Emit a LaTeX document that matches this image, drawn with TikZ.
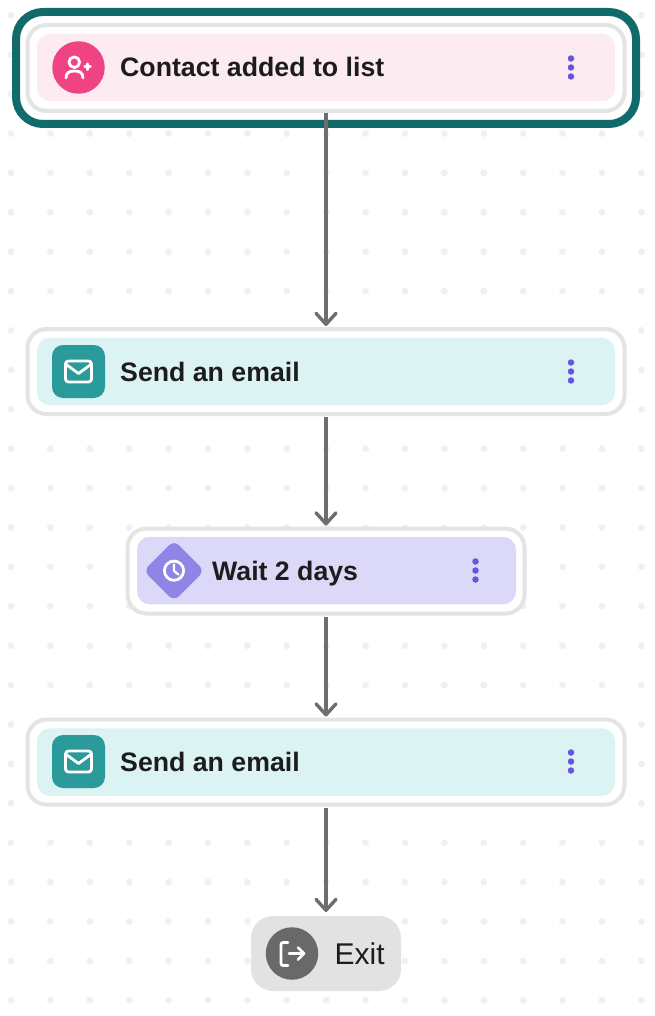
\documentclass[tikz,border=0pt]{standalone}
\usepackage{fontspec}
\setmainfont{Liberation Sans}
\usetikzlibrary{arrows.meta,shapes.geometric}
\definecolor{dotc}{HTML}{F0F0F0}
\definecolor{framec}{HTML}{E4E4E4}
\definecolor{selc}{HTML}{126B6B}
\definecolor{pinkl}{HTML}{FCEBF1}
\definecolor{pinkd}{HTML}{EF4383}
\definecolor{teall}{HTML}{DBF4F3}
\definecolor{teald}{HTML}{2A9A9A}
\definecolor{purl}{HTML}{DCD8F7}
\definecolor{purd}{HTML}{8F85E6}
\definecolor{kebabc}{HTML}{6555E0}
\definecolor{linec}{HTML}{6E6E6E}
\definecolor{exitl}{HTML}{E2E2E2}
\definecolor{exitd}{HTML}{696969}
\definecolor{inkc}{HTML}{1C1C1C}
\tikzset{
 framebox/.style={draw=framec,line width=4pt,fill=white,rounded corners=19pt,outer sep=0pt,inner sep=0pt},
 innerbox/.style={rounded corners=13pt,outer sep=0pt,inner sep=0pt,minimum height=67.5pt},
 flow/.style={draw=linec,line width=4pt,-{Straight Barb[length=11pt,width=20pt,line width=3.4pt,round]}},
 label/.style={anchor=base west,text=inkc,font=\fontsize{26.7pt}{30pt}\selectfont\bfseries,inner sep=0pt},
 icon/.style={draw=white,line width=2.8pt,line cap=round,line join=round},
 kebab/.style={circle,fill=kebabc,minimum size=6.5pt,inner sep=0pt},
}
\begin{document}
\begin{tikzpicture}[x=1pt,y=-1pt]
\useasboundingbox[fill=white] (0,0) rectangle (654,1016);
% background dots
\foreach \i in {0,...,16}{\foreach \j in {0,...,25}{
 \fill[dotc] ({11+39.4*\i},{15.3+39.4*\j}) circle (3.4pt);}}
% selection ring
\node[draw=selc,line width=8pt,fill=white,rounded corners=27pt,minimum width=620pt,minimum height=112pt,outer sep=0pt] (ring) at (326,68) {};
% frames
\node[framebox,minimum width=597pt,minimum height=86pt] (trigger) at (326,68) {};
\node[framebox,minimum width=597pt,minimum height=85pt] (mailA) at (326,371.5) {};
\node[framebox,minimum width=397pt,minimum height=85pt] (wait) at (326,571) {};
\node[framebox,minimum width=597pt,minimum height=85pt] (mailB) at (326,762) {};
\node[fill=exitl,rounded corners=22pt,minimum width=150pt,minimum height=75pt,outer sep=0pt,inner sep=0pt] (exit) at (326,953.5) {};
% inner fills
\node[innerbox,fill=pinkl,minimum width=578pt] (triggerIn) at (326,67.5) {};
\node[innerbox,fill=teall,minimum width=578pt] (mailAIn) at (326,371.5) {};
\node[innerbox,fill=purl,minimum width=379pt] (waitIn) at (326.5,570.5) {};
\node[innerbox,fill=teall,minimum width=578pt] (mailBIn) at (326,762) {};
% connectors
\draw[flow] ([yshift=-2pt]trigger.south) -- ([yshift=3pt]mailA.north);
\draw[flow] ([yshift=-3pt]mailA.south) -- ([yshift=3pt]wait.north);
\draw[flow] ([yshift=-3pt]wait.south) -- ([yshift=3pt]mailB.north);
\draw[flow] ([yshift=-3pt]mailB.south) -- ([yshift=4pt]exit.north);
% trigger icon
\node[circle,fill=pinkd,minimum size=52.5pt,inner sep=0pt] (iconA) at (78.5,67.5) {};
\draw[icon] (74.3,62.2) circle (5.3pt);
\draw[icon] (66,78) .. controls (66,73) and (69,71) .. (74.5,71) .. controls (80,71) and (83,73) .. (83,78);
\draw[icon,line width=2.4pt] (84.5,66.7) -- (90.5,66.7) (87.5,63.7) -- (87.5,69.7);
% email icons
\foreach \n/\y in {iconB/371.5,iconD/761.5}{
 \node[fill=teald,rounded corners=11pt,minimum size=53pt,inner sep=0pt] (\n) at (78.5,\y) {};
 \draw[icon,rounded corners=3pt] (65.5,\y-10.5) rectangle (91.5,\y+10.5);
 \draw[icon] (65.5,\y-7.5) -- (78.5,\y+2) -- (91.5,\y-7.5);
}
% wait icon
\node[diamond,fill=purd,rounded corners=7pt,minimum size=61pt,inner sep=0pt] (iconC) at (174,570.7) {};
\draw[icon] (174,570.7) circle (9.6pt);
\draw[icon,line width=2.2pt] (174,564.5) -- (174,571) -- (178.5,574.5);
% exit icon
\node[circle,fill=exitd,minimum size=52.5pt,inner sep=0pt] (iconE) at (292,953.5) {};
\draw[icon,rounded corners=2pt] (288,942.5) -- (281,942.5) -- (281,965.5) -- (288,965.5);
\draw[icon] (289,953.5) -- (304,953.5) (298,947.5) -- (304,953.5) -- (298,959.5);
% labels
\node[label] (t1) at (120,77) {Contact added to list};
\node[label] (t2) at (120,381) {Send an email};
\node[label] (t3) at (212,580) {Wait 2 days};
\node[label] (t4) at (120,771) {Send an email};
\node[label,font=\fontsize{30pt}{34pt}\selectfont] (t5) at (334.5,964) {Exit};
% kebabs
\foreach \n/\x/\y in {a/571/67.5,b/571/371.5,c/475.5/570.5,d/571/761.5}{
 \node[kebab] (\n1) at (\x,\y-9) {};
 \node[kebab] (\n2) at (\x,\y) {};
 \node[kebab] (\n3) at (\x,\y+9) {};
}
\end{tikzpicture}
\end{document}
